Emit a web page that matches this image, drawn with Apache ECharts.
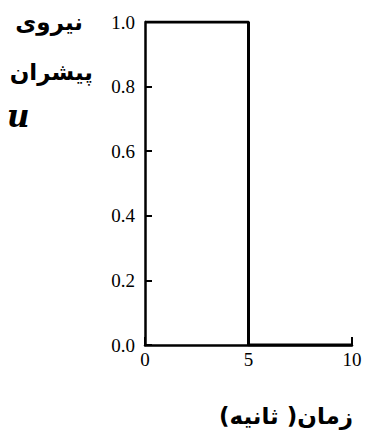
<!DOCTYPE html>
<html>
<head>
<meta charset="utf-8">
<script src="https://cdn.jsdelivr.net/npm/echarts@6/dist/echarts.min.js"></script>
<style>html,body{margin:0;padding:0;background:#fff}#c{width:365px;height:436px}</style>
</head>
<body>
<div id="c"></div>
<script>
var timePoints = [0, 5, 10];
var forceValues = [1, 0, 0];
var xTicks = [0, 5, 10];
var yTicks = [0.0, 0.2, 0.4, 0.6, 0.8, 1.0];
var yTitleLines = ['نیروی', 'پیشران'];
var yTitleSymbol = 'u';
var xTitle = 'زمان( ثانیه)';

var chart = echarts.init(document.getElementById('c'), null, {renderer: 'svg'});
var serif = "'Liberation Serif'";
function txt(s, size, family, weight, style) {
  return {text: s, fontSize: size, fontFamily: family, fontWeight: weight, fontStyle: style || 'normal', fill: '#000'};
}
var t1 = txt(yTitleLines[0], 23, "'DejaVu Sans'", 'bold'); t1.textAlign = 'right';
var t2 = txt(yTitleLines[1], 23, "'DejaVu Sans'", 'bold'); t2.textAlign = 'right';
var t3 = txt(yTitleSymbol, 31, "'DejaVu Serif'", 'bold', 'italic');
var t4 = txt(xTitle, 23, "'DejaVu Sans'", 'bold'); t4.textAlign = 'right';
chart.setOption({
  animation: false,
  backgroundColor: '#fff',
  grid: {left: 145, top: 22, right: 13, bottom: 91, containLabel: false},
  xAxis: {
    type: 'value', min: 0, max: 10, interval: 5,
    axisLine: {show: true, onZero: false, lineStyle: {color: '#000', width: 2.5}},
    axisTick: {show: true, inside: true, length: 8, lineStyle: {color: '#000', width: 2}},
    axisLabel: {color: '#000', fontFamily: serif, fontSize: 19, margin: 5,
      formatter: function (v) { return xTicks.indexOf(v) >= 0 ? String(v) : ''; }},
    splitLine: {show: false}
  },
  yAxis: {
    type: 'value', min: 0, max: 1, interval: 0.2,
    axisLine: {show: true, lineStyle: {color: '#000', width: 2.5}},
    axisTick: {show: true, inside: true, length: 7, lineStyle: {color: '#000', width: 2}},
    axisLabel: {color: '#000', fontFamily: serif, fontSize: 19, margin: 10,
      formatter: function (v) { return v.toFixed(1); }},
    splitLine: {show: false}
  },
  series: [{
    type: 'line', step: 'end', symbol: 'none',
    lineStyle: {color: '#000', width: 3},
    data: timePoints.map(function (t, i) { return [t, forceValues[i]]; })
  }],
  graphic: [
    {type: 'text', right: 282, top: 10, style: t1},
    {type: 'text', right: 272, top: 60, style: t2},
    {type: 'text', left: 7, top: 100, style: t3},
    {type: 'text', right: 12, top: 404, style: t4}
  ]
});
</script>
</body>
</html>
